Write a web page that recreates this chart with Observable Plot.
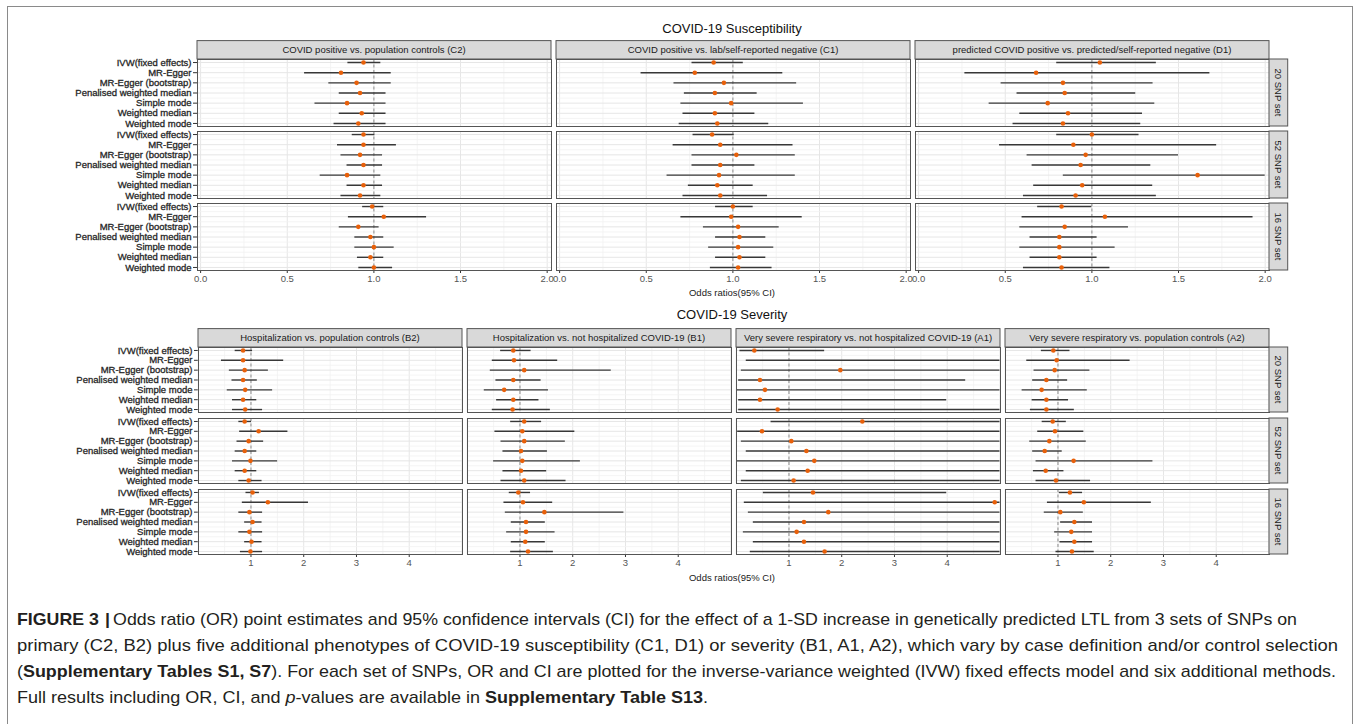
<!DOCTYPE html>
<html>
<head>
<meta charset="utf-8">
<script src="https://cdn.jsdelivr.net/npm/d3@7"></script>
<script src="https://cdn.jsdelivr.net/npm/@observablehq/plot@0.6"></script>
<style>
html, body { margin: 0; padding: 0; background: #fff; }
body { width: 1356px; height: 724px; position: relative; overflow: hidden; font-family: "Liberation Sans", Arial, sans-serif; }
#frame { position: absolute; left: 7px; top: 6px; width: 1346px; height: 800px; border: 1px solid #8a8a8a; box-sizing: border-box; }
#top { position: absolute; left: 0; top: 0; }
#bottom { position: absolute; left: 0; top: 300px; }
.cap { position: absolute; left: 17px; white-space: nowrap; font-family: "Liberation Sans", Arial, sans-serif; font-size: 17px; line-height: 26px; color: #231f20; transform-origin: 0 50%; }
.cap b { font-weight: bold; }
.cap .bar { font-weight: bold; margin: 0 3px 0 1px; }
</style>
</head>
<body>
<div id="frame"></div>
<div id="top"></div>
<div id="bottom"></div>
<div class="cap" data-w="1280" style="top:607px"><span><b>FIGURE 3</b> <b class="bar">|</b>Odds ratio (OR) point estimates and 95% confidence intervals (CI) for the effect of a 1-SD increase in genetically predicted LTL from 3 sets of SNPs on</span></div>
<div class="cap" data-w="1321" style="top:633px"><span>primary (C2, B2) plus five additional phenotypes of COVID-19 susceptibility (C1, D1) or severity (B1, A1, A2), which vary by case definition and/or control selection</span></div>
<div class="cap" data-w="1319" style="top:659px"><span>(<b>Supplementary Tables S1, S7</b>). For each set of SNPs, OR and CI are plotted for the inverse-variance weighted (IVW) fixed effects model and six additional methods.</span></div>
<div class="cap" data-w="0" style="top:685px"><span>Full results including OR, CI, and <i>p</i>-values are available in <b>Supplementary Table S13</b>.</span></div>
<script>
// ---------------- DATA ----------------
const methods = ["IVW(fixed effects)", "MR-Egger", "MR-Egger (bootstrap)", "Penalised weighted median", "Simple mode", "Weighted median", "Weighted mode"];
const snpSets = ["20 SNP set", "52 SNP set", "16 SNP set"];
const suscPhenotypes = ["COVID positive vs. population controls (C2)", "COVID positive vs. lab/self-reported negative (C1)", "predicted COVID positive vs. predicted/self-reported negative (D1)"];
const sevPhenotypes = ["Hospitalization vs. population controls (B2)", "Hospitalization vs. not hospitalized COVID-19 (B1)", "Very severe respiratory vs. not hospitalized COVID-19 (A1)", "Very severe respiratory vs. population controls (A2)"];
const suscTitle = "COVID-19 Susceptibility";
const sevTitle = "COVID-19 Severity";
const xTitle = "Odds ratios(95% CI)";
const suscTicks = [0, 0.5, 1, 1.5, 2];
const suscTickLabels = ["0.0", "0.5", "1.0", "1.5", "2.0"];
const suscMinor = [0.25, 0.75, 1.25, 1.75];
const sevTicks = [1, 2, 3, 4];
const sevTickLabels = ["1", "2", "3", "4"];
const sevGrid = [0, 1, 2, 3, 4, 5];
const sevMinor = [0.5, 1.5, 2.5, 3.5, 4.5];

// each array: 7 methods for 20 SNP set, then 52 SNP set, then 16 SNP set
const C2_or = [0.94, 0.81, 0.90, 0.92, 0.845, 0.93, 0.91,  0.94, 0.94, 0.92, 0.94, 0.845, 0.94, 0.92,  0.99, 1.057, 0.91, 0.98, 1.00, 0.98, 1.00];
const C2_lo = [0.85, 0.60, 0.74, 0.80, 0.66, 0.80, 0.77,  0.875, 0.79, 0.81, 0.845, 0.69, 0.845, 0.81,  0.935, 0.853, 0.80, 0.89, 0.89, 0.905, 0.913];
const C2_hi = [1.04, 1.10, 1.10, 1.07, 1.07, 1.07, 1.07,  1.006, 1.13, 1.05, 1.05, 1.04, 1.05, 1.04,  1.057, 1.304, 1.03, 1.057, 1.117, 1.057, 1.108];

const C1_or = [0.889, 0.78, 0.948, 0.896, 0.99, 0.896, 0.91,  0.88, 0.927, 1.02, 0.927, 0.92, 0.91, 0.927,  1.0, 0.99, 1.03, 1.038, 1.03, 1.038, 1.03];
const C1_lo = [0.764, 0.47, 0.66, 0.72, 0.70, 0.712, 0.69,  0.77, 0.655, 0.764, 0.764, 0.62, 0.743, 0.712,  0.90, 0.70, 0.83, 0.90, 0.86, 0.90, 0.87];
const C1_hi = [1.06, 1.288, 1.368, 1.14, 1.407, 1.127, 1.207,  1.008, 1.347, 1.36, 1.127, 1.36, 1.117, 1.20,  1.117, 1.40, 1.267, 1.19, 1.236, 1.19, 1.226];

const D1_or = [1.046, 0.678, 0.833, 0.843, 0.745, 0.862, 0.833,  1.0, 0.893, 0.964, 0.935, 1.61, 0.944, 0.906,  0.825, 1.075, 0.843, 0.812, 0.812, 0.812, 0.825];
const D1_lo = [0.797, 0.267, 0.476, 0.568, 0.407, 0.584, 0.545,  0.797, 0.467, 0.626, 0.655, 0.835, 0.664, 0.605,  0.687, 0.597, 0.584, 0.643, 0.584, 0.643, 0.605];
const D1_hi = [1.372, 1.681, 1.353, 1.253, 1.363, 1.292, 1.282,  1.272, 1.72, 1.50, 1.34, 2.0, 1.351, 1.372,  1.0, 1.93, 1.211, 1.03, 1.134, 1.03, 1.104];

const B2_or = [0.85, 0.85, 0.88, 0.85, 0.89, 0.85, 0.89,  0.88, 1.145, 0.956, 0.88, 0.99, 0.88, 0.956,  1.03, 1.32, 0.97, 1.03, 0.97, 1.01, 0.99];
const B2_lo = [0.70, 0.44, 0.59, 0.64, 0.55, 0.65, 0.65,  0.77, 0.785, 0.735, 0.70, 0.65, 0.70, 0.77,  0.905, 0.836, 0.77, 0.88, 0.77, 0.88, 0.80];
const B2_hi = [1.03, 1.62, 1.33, 1.12, 1.41, 1.11, 1.22,  1.01, 1.70, 1.24, 1.11, 1.505, 1.11, 1.21,  1.16, 2.09, 1.22, 1.21, 1.22, 1.21, 1.22];

const B1_or = [0.873, 0.886, 1.08, 0.873, 0.70, 0.873, 0.86,  1.08, 1.044, 1.08, 1.02, 1.044, 1.02, 1.08,  0.968, 1.057, 1.462, 1.114, 1.114, 1.10, 1.152];
const B1_lo = [0.633, 0.475, 0.437, 0.544, 0.323, 0.557, 0.475,  0.823, 0.525, 0.64, 0.677, 0.50, 0.677, 0.64,  0.797, 0.696, 0.722, 0.835, 0.747, 0.835, 0.823];
const B1_hi = [1.21, 1.715, 2.73, 1.40, 1.54, 1.36, 1.576,  1.41, 2.04, 1.86, 1.52, 2.145, 1.506, 1.873,  1.20, 1.62, 2.97, 1.48, 1.665, 1.48, 1.633];

// A1: MR-Egger (20 SNP) estimate lies off the plotted range (not visible)
const A1_or = [0.343, null, 1.973, 0.45, 0.545, 0.45, 0.785,  2.39, 0.488, 1.044, 1.33, 1.48, 1.354, 1.088,  1.455, 4.9, 1.745, 1.284, 1.145, 1.284, 1.676];
const A1_lo = [0.07, 0.19, 0.097, 0.046, 0.015, 0.046, 0.046,  0.66, 0.027, 0.097, 0.19, 0.015, 0.19, 0.097,  0.514, 0.153, 0.23, 0.324, 0.135, 0.324, 0.267];
const A1_hi = [1.676, 5.0, 5.0, 4.35, 5.0, 3.99, 5.0,  5.0, 5.0, 5.0, 5.0, 5.0, 5.0, 5.0,  3.99, 5.0, 5.0, 5.0, 5.0, 5.0, 5.0];

const A2_or = [0.912, 0.975, 0.937, 0.78, 0.69, 0.78, 0.78,  0.90, 0.943, 0.836, 0.748, 1.296, 0.767, 0.962,  1.227, 1.49, 1.044, 1.31, 1.252, 1.31, 1.265];
const A2_lo = [0.685, 0.408, 0.546, 0.52, 0.32, 0.51, 0.477,  0.70, 0.616, 0.465, 0.52, 0.584, 0.534, 0.584,  1.025, 0.80, 0.74, 1.05, 0.937, 1.038, 0.962];
const A2_hi = [1.227, 2.367, 1.605, 1.183, 1.555, 1.20, 1.31,  1.158, 1.49, 1.536, 1.08, 2.80, 1.113, 1.618,  1.466, 2.77, 1.48, 1.655, 1.655, 1.655, 1.687];

// ---------------- BUILD ----------------
function rowsFor(pheno, or, lo, hi) {
  const out = [];
  snpSets.forEach((s, si) => methods.forEach((m, mi) => {
    const k = si * methods.length + mi;
    out.push({pheno, set: s, method: m, idx: mi, or: or[k], lo: lo[k], hi: hi[k]});
  }));
  return out;
}

const suscRows = [].concat(
  rowsFor(suscPhenotypes[0], C2_or, C2_lo, C2_hi),
  rowsFor(suscPhenotypes[1], C1_or, C1_lo, C1_hi),
  rowsFor(suscPhenotypes[2], D1_or, D1_lo, D1_hi)
);
const sevRows = [].concat(
  rowsFor(sevPhenotypes[0], B2_or, B2_lo, B2_hi),
  rowsFor(sevPhenotypes[1], B1_or, B1_lo, B1_hi),
  rowsFor(sevPhenotypes[2], A1_or, A1_lo, A1_hi),
  rowsFor(sevPhenotypes[3], A2_or, A2_lo, A2_hi)
);

const FONT = '"Liberation Sans", Arial, sans-serif';
const yIdx = d3.range(methods.length);
const yMinor = d3.range(methods.length - 1).map(i => i + 0.5);

function chart(o) {
  const plot = Plot.plot({
    width: 1300,
    height: o.height,
    marginLeft: 197,
    marginRight: 31,
    marginTop: o.marginTop,
    marginBottom: o.marginBottom,
    style: {fontFamily: FONT, fontSize: "9.5px", background: "transparent", color: "#333", overflow: "visible"},
    facet: {data: o.rows, x: "pheno", y: "set"},
    fx: {domain: o.phenos, paddingInner: o.fxPad, paddingOuter: 0, axis: null, label: null},
    fy: {domain: snpSets, paddingInner: o.fyPad, paddingOuter: 0, axis: null, label: null},
    x: {domain: o.xDomain, ticks: o.ticks, tickFormat: d => o.tickLabels[o.ticks.indexOf(d)], tickSize: 3, tickPadding: 2, label: null},
    y: {domain: [-0.3, methods.length - 1 + 0.3], reverse: true, ticks: yIdx, tickFormat: i => methods[i], tickSize: 4, tickPadding: 2, label: null},
    marks: [
      Plot.ruleX(o.minor, {stroke: "#F1F1F1", strokeWidth: 0.8}),
      Plot.ruleX(o.grid, {stroke: "#E6E6E6", strokeWidth: 1}),
      Plot.ruleY(yMinor, {stroke: "#F1F1F1", strokeWidth: 0.8}),
      Plot.ruleY(yIdx, {stroke: "#E6E6E6", strokeWidth: 1}),
      Plot.ruleX([1], {stroke: "#8c8c8c", strokeWidth: 1, strokeDasharray: "3,2.5"}),
      Plot.ruleY(o.rows, {y: "idx", x1: "lo", x2: "hi", stroke: "#383838", strokeWidth: 1.4, clip: true}),
      Plot.dot(o.rows, {x: "or", y: "idx", fill: "#E8600A", r: 2.3, clip: true}),
      Plot.frame({stroke: "#555", strokeWidth: 1})
    ]
  });

  const svg = d3.select(plot);
  svg.selectAll('g[aria-label="x-axis tick label"]').attr("fill", "#555");
  svg.selectAll('g[aria-label="y-axis tick label"]').attr("fill", "#262626").attr("stroke", "#262626").attr("stroke-width", 0.3);
  svg.selectAll('g[aria-label="x-axis tick"]').attr("stroke", "#444");
  svg.selectAll('g[aria-label="y-axis tick"]').attr("stroke", "#444");

  const fxS = plot.scale("fx"), fyS = plot.scale("fy");
  const bw = fxS.bandwidth, bh = fyS.bandwidth;
  const topY = fyS.apply(snpSets[0]);
  const g = svg.append("g").attr("font-family", FONT);
  const stripH = 18.4, stripW = 18.7;
  o.phenos.forEach(p => {
    const x0 = fxS.apply(p);
    g.append("rect").attr("x", x0).attr("y", topY - stripH).attr("width", bw).attr("height", stripH)
      .attr("fill", "#D9D9D9").attr("stroke", "#555").attr("stroke-width", 1);
    g.append("text").attr("x", x0 + bw / 2).attr("y", topY - stripH / 2).attr("dy", "0.35em")
      .attr("text-anchor", "middle").attr("font-size", "9.5px").attr("fill", "#1a1a1a").text(p);
  });
  const xR = fxS.apply(o.phenos[o.phenos.length - 1]) + bw;
  snpSets.forEach(s => {
    const y0 = fyS.apply(s);
    g.append("rect").attr("x", xR).attr("y", y0).attr("width", stripW).attr("height", bh)
      .attr("fill", "#D9D9D9").attr("stroke", "#555").attr("stroke-width", 1);
    g.append("text").attr("transform", `translate(${xR + stripW / 2},${y0 + bh / 2}) rotate(90)`)
      .attr("dy", "0.35em").attr("text-anchor", "middle").attr("font-size", "9.5px").attr("fill", "#1a1a1a").text(s);
  });
  g.append("text").attr("x", 732).attr("y", o.titleY).attr("dy", "0.35em").attr("text-anchor", "middle")
    .attr("font-size", "13px").attr("fill", "#111").text(o.title);
  g.append("text").attr("x", 732).attr("y", o.xTitleY).attr("dy", "0.35em").attr("text-anchor", "middle")
    .attr("font-size", "9.5px").attr("fill", "#1a1a1a").text(xTitle);
  return plot;
}

document.getElementById("top").appendChild(chart({
  rows: suscRows, phenos: suscPhenotypes, height: 300, marginTop: 59, marginBottom: 30,
  fxPad: 5 / 359, fyPad: 0.0695, xDomain: [-0.018, 2.025],
  ticks: suscTicks, tickLabels: suscTickLabels, grid: suscTicks, minor: suscMinor,
  title: suscTitle, titleY: 28.5, xTitleY: 293
}));

document.getElementById("bottom").appendChild(chart({
  rows: sevRows, phenos: sevPhenotypes, height: 290, marginTop: 46, marginBottom: 34,
  fxPad: 0.0204, fyPad: 0.078, xDomain: [0.005, 5.01],
  ticks: sevTicks, tickLabels: sevTickLabels, grid: sevGrid, minor: sevMinor,
  title: sevTitle, titleY: 14, xTitleY: 277.5
}));

// caption: fit each full line to the width it spans in the figure
const caps = Array.from(document.querySelectorAll(".cap"));
const ks = [];
caps.forEach(el => {
  const target = +el.dataset.w;
  const w = el.querySelector("span").getBoundingClientRect().width;
  if (target > 0) ks.push(target / w);
  el._w = w;
});
const kAvg = d3.mean(ks);
caps.forEach(el => {
  const target = +el.dataset.w;
  const k = target > 0 ? target / el._w : kAvg;
  el.style.transform = `scaleX(${k})`;
});
</script>
</body>
</html>
